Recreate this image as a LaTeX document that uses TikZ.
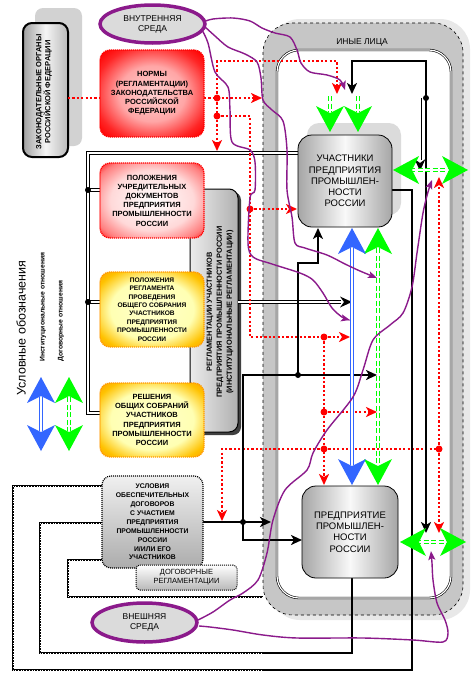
\documentclass[tikz,border=0pt]{standalone}
\usepackage{fontspec}
\setmainfont{Liberation Sans}
\usetikzlibrary{arrows.meta,calc,shapes.geometric}
\definecolor{purp}{HTML}{8B1A8B}
\definecolor{blu}{HTML}{3366FF}
\definecolor{grn}{HTML}{00FF00}
\definecolor{org}{HTML}{FF9900}
\pgfdeclareradialshading{redglow}{\pgfpointorigin}{color(0bp)=(white); color(20bp)=(white!85!red); color(30bp)=(red!50); color(37bp)=(red); color(50bp)=(red)}
\pgfdeclareradialshading{redfull}{\pgfpointorigin}{color(0bp)=(red!18); color(16bp)=(red!35); color(28bp)=(red!85); color(34bp)=(red); color(50bp)=(red)}
\pgfdeclareradialshading{orgglow}{\pgfpointorigin}{color(0bp)=(white!80!yellow); color(20bp)=(yellow!30!white); color(30bp)=(org!60!yellow); color(37bp)=(org); color(50bp)=(org)}
\begin{document}
\begin{tikzpicture}[x=1pt,y=-1pt,
 lab/.style={font={\bfseries\fontsize{7.5}{9.2}\selectfont}, align=center, inner sep=0pt},
 labs/.style={font={\bfseries\fontsize{6.6}{8.4}\selectfont}, align=center, inner sep=0pt},
 labr/.style={font={\fontsize{9.5}{11.2}\selectfont}, align=center, inner sep=0pt},
 redbox/.style={rounded corners=10pt, draw=red, line width=1.3pt, dash pattern=on 1.2pt off 0.8pt, minimum width=104pt},
 orbox/.style={rounded corners=10pt, draw=org, line width=1.3pt, dash pattern=on 1.2pt off 0.8pt, minimum width=104pt, shade, shading=orgglow},
 gbox/.style={rounded corners=9pt, draw=black, line width=0.8pt, inner sep=0pt},
 env/.style={ellipse, draw=purp, line width=3.5pt, fill=gray!28, inner sep=0pt, font={\fontsize{8.5}{10}\selectfont}, align=center},
 rdl/.style={red, line width=2.2pt, dash pattern=on 2.2pt off 2.2pt},
 rtip/.style={-{Stealth[length=11pt,width=10pt,inset=3pt]}},
 blk/.style={black, line width=2.2pt},
 btip/.style={-{Stealth[length=11pt,width=10pt,inset=3pt]}},
 instl/.style={draw=black, double=white, double distance=1.8pt, line width=1.1pt},
 ctr/.style={black, line width=2.8pt, postaction={draw, white, line width=0.7pt, dash pattern=on 0.7pt off 2pt}},
 rdot/.style={circle, fill=red, inner sep=0pt, minimum size=7pt},
 kdot/.style={circle, fill=black, inner sep=0pt, minimum size=6pt},
 purl/.style={purp, line width=1.4pt, -{Stealth[length=9pt,width=7pt,inset=2pt]}},
 grl/.style={draw=grn, double=white, double distance=1.6pt, line width=1.6pt, dash pattern=on 5pt off 2.5pt},
 bll/.style={draw=blu, double=white, double distance=1.4pt, line width=1.2pt},
 bigtip/.pic={\fill (0pt,0pt) -- (-26pt,14pt) -- (-19pt,0pt) -- (-26pt,-14pt) -- cycle;},
 smtip/.pic={\fill (0pt,0pt) -- (-12pt,5.5pt) -- (-8pt,0pt) -- (-12pt,-5.5pt) -- cycle;}
]
\fill[white] (0,0) rectangle (475,678);
\useasboundingbox (0,0) rectangle (475,678);

% ----- frame ИНЫЕ ЛИЦА
\fill[gray!18, rounded corners=30pt] (270,19) rectangle (470,620);
\node[draw, dashed, fill=gray!45, rounded corners=30pt, minimum width=200pt, minimum height=592pt, line width=0.6pt, inner sep=0pt] (iny) at (363,319) {};
\node[draw, double, double distance=1.2pt, line width=0.6pt, fill=white, rounded corners=22pt, minimum width=174pt, minimum height=548pt, inner sep=0pt] (inyin) at (364,324) {};
\node[font={\fontsize{8.5}{10}\selectfont}, inner sep=0pt] (inylab) at (362,42) {ИНЫЕ ЛИЦА};

% ----- shadows
\fill[gray!35, rounded corners=8pt] (35,8) rectangle (82,146);
\fill[black!75, rounded corners=8pt] (193,192) rectangle (241,435);
\fill[gray!28, rounded corners=12pt] (307,123) rectangle (401,215);

% ----- coordinates
\coordinate (d1) at (217,98);
\coordinate (d2) at (217,116);
\coordinate (d3) at (250,209);
\coordinate (d4) at (324,337);
\coordinate (d5) at (324,412);
\coordinate (d6) at (324,449);
\coordinate (d7) at (439,449);
\coordinate (k0) at (298,153);
\coordinate (k1) at (88,190);
\coordinate (k2) at (88,302);
\coordinate (c1) at (243,522);
\coordinate (c2) at (298,375);
\coordinate (t1) at (426,98);

% ----- boxes (left)
\node[gbox, line width=2pt, minimum width=45pt, minimum height=134pt, left color=gray!75, right color=gray!55, middle color=gray!8] (zak) at (45.5,90) {};
\node[lab, rotate=90] (zaktxt) at (44,92) {ЗАКОНОДАТЕЛЬНЫЕ ОРГАНЫ\\РОССИЙСКОЙ ФЕДЕРАЦИИ};
\node[env, minimum width=105pt, minimum height=38pt] (vnut) at (152.5,24) {ВНУТРЕННЯЯ\\СРЕДА};
\node[gbox, line width=1pt, minimum width=48pt, minimum height=243pt, left color=gray!15, right color=gray!62] (inst) at (214,310.5) {};
\node[lab, rotate=90, font={\bfseries\fontsize{7.4}{10}\selectfont}] (insttxt) at (220,312) {РЕГЛАМЕНТАЦИИ УЧАСТНИКОВ\\ПРЕДПРИЯТИЯ ПРОМЫШЛЕННОСТИ РОССИИ\\(ИНСТИТУЦИОНАЛЬНЫЕ РЕГЛАМЕНТАЦИИ)};

% ----- institutional double lines
\draw[instl] (k0) -- (88,153) -- (88,413) -- (100,413);
\draw[instl] (k1) -- (100,190);
\draw[instl] (k2) -- (100,302);
\node[kdot] at (k1) {};
\node[kdot] at (k2) {};
\draw[instl] (238,302) -- (341,302);
\pic[black] at (352,302) {smtip};

% ----- red dotted
\draw[rdl] (68,98) -- (100,98);
\draw[rdl, rtip] (204,98) -- (262,98);
\draw[rdl, rtip] (d1) -- (217,61) -- (337,61) -- (337,94);
\draw[rdl, rtip] (d1) -- (217,151);
\draw[rdl] (d2) -- (250,116) -- (250,337) -- (d4);
\draw[rdl, rtip] (d3) -- (297,209);
\draw[rdl, rtip] (d4) -- (350,337);
\draw[rdl, rtip] (d4) -- (d6) -- (324,485);
\draw[rdl, rtip] (d5) -- (377,412);
\draw[rdl, rtip] (d6) -- (222,449) -- (222,521);
\draw[rdl] (d6) -- (d7);
\draw[rdl, rtip] (d7) -- (439,177);
\draw[rdl, rtip] (d7) -- (439,533);
\foreach \p in {d1,d2,d3,d4,d5,d6,d7} \node[rdot] at (\p) {};

% ----- contract lines
\draw[ctr] (102,486) -- (13,486) -- (13,670) -- (263,670);
\draw[blk] (262,670) -- (412,670) -- (412,190) -- (392,190);
\draw[ctr] (102,523) -- (40,523) -- (40,653) -- (263,653);
\draw[blk] (262,653) -- (352,653) -- (352,578);
\draw[ctr] (102,560) -- (68,560) -- (68,597) -- (263,597);
\draw[blk, btip] (203,522) -- (c1) -- (271,522);
\draw[blk, btip] (c1) -- (243,375) -- (c2) -- (377,375);
\draw[blk, btip] (c2) -- (298,263) -- (318,263) -- (318,228);
\draw[blk, btip] (c1) -- (243,540) -- (302,540);
\node[kdot] at (c1) {};
\node[kdot] at (c2) {};
\draw[blk, {Stealth[length=11pt,width=10pt,inset=3pt]}-{Stealth[length=11pt,width=10pt,inset=3pt]}] (352,94) -- (352,61) -- (426,61) -- (426,533);
\node[kdot] at (t1) {};
\draw[black, double=white, double distance=1.2pt, line width=0.9pt] (420,98) -- (420,160);
\pic[black, rotate=-90] at (420,171) {smtip};

% ----- green / blue relations
\draw[grl] (330,96) -- (330,112);
\draw[grl] (358,96) -- (358,112);
\pic[grn, rotate=-90] at (330,132) {bigtip};
\pic[grn, rotate=-90] at (358,132) {bigtip};
\draw[grl] (410,170) -- (450,170);
\pic[grn, rotate=180] at (393,170) {bigtip};
\pic[grn] at (468,170) {bigtip};
\draw[grl] (416,542) -- (450,542);
\pic[grn, rotate=180] at (400,542) {bigtip};
\pic[grn] at (466,542) {bigtip};
\draw[grl] (378,248) -- (378,465);
\pic[grn, rotate=90] at (378,228) {bigtip};
\pic[grn, rotate=-90] at (378,485) {bigtip};
\draw[bll] (352,248) -- (352,465);
\pic[blu, rotate=90] at (352,228) {bigtip};
\pic[blu, rotate=-90] at (352,485) {bigtip};

% ----- boxes
\node[redbox, lab, minimum height=87pt, shade, shading=redfull] (norm) at (152,93.5) {НОРМЫ\\(РЕГЛАМЕНТАЦИИ)\\ЗАКОНОДАТЕЛЬСТВА\\РОССИЙСКОЙ\\ФЕДЕРАЦИИ};
\node[redbox, lab, minimum height=75pt, shade, shading=redglow] (uchr) at (152,200.5) {ПОЛОЖЕНИЯ\\УЧРЕДИТЕЛЬНЫХ\\ДОКУМЕНТОВ\\ПРЕДПРИЯТИЯ\\ПРОМЫШЛЕННОСТИ\\РОССИИ};
\node[orbox, labs, minimum height=75pt] (regl) at (152,309.5) {ПОЛОЖЕНИЯ\\РЕГЛАМЕНТА\\ПРОВЕДЕНИЯ\\ОБЩЕГО СОБРАНИЯ\\УЧАСТНИКОВ\\ПРЕДПРИЯТИЯ\\ПРОМЫШЛЕННОСТИ\\РОССИИ};
\node[orbox, lab, minimum height=74pt] (resh) at (152,420) {РЕШЕНИЯ\\ОБЩИХ СОБРАНИЙ\\УЧАСТНИКОВ\\ПРЕДПРИЯТИЯ\\ПРОМЫШЛЕННОСТИ\\РОССИИ};
\node[gbox, align=center, dash pattern=on 1pt off 1pt, line width=1.2pt, minimum width=101pt, minimum height=92pt, top color=gray!12, bottom color=gray!65, font={\bfseries\fontsize{6.8}{8.9}\selectfont}] (usl) at (152.5,522) {УСЛОВИЯ\\ОБЕСПЕЧИТЕЛЬНЫХ\\ДОГОВОРОВ\\С УЧАСТИЕМ\\ПРЕДПРИЯТИЯ\\ПРОМЫШЛЕННОСТИ\\РОССИИ\\И/ИЛИ ЕГО\\УЧАСТНИКОВ};
\node[gbox, rounded corners=4pt, dash pattern=on 1pt off 1pt, line width=1pt, minimum width=101pt, minimum height=25pt, top color=white, bottom color=gray!55, font={\fontsize{7.5}{8.8}\selectfont}, align=center] (dog) at (186.5,577.5) {ДОГОВОРНЫЕ\\РЕГЛАМЕНТАЦИИ};
\node[env, minimum width=105pt, minimum height=39pt] (vnesh) at (144.5,622.5) {ВНЕШНЯЯ\\СРЕДА};

\node[gbox, labr, minimum width=94pt, minimum height=92pt, rounded corners=14pt, left color=gray!70, right color=gray!70, middle color=gray!5] (uch) at (345,181) {УЧАСТНИКИ\\ПРЕДПРИЯТИЯ\\ПРОМЫШЛЕН-\\НОСТИ\\РОССИИ};
\node[gbox, labr, minimum width=96pt, minimum height=92pt, rounded corners=14pt, left color=gray!70, right color=gray!70, middle color=gray!5] (pred) at (350,532) {ПРЕДПРИЯТИЕ\\ПРОМЫШЛЕН-\\НОСТИ\\РОССИИ};

% ----- purple influences
\draw[purl] plot[smooth, tension=0.5] coordinates {(203,22) (213,19) (233,18) (250,21) (262,28) (275,33) (290,37) (297,50) (301,63) (310,72) (327,75) (340,80) (345,90)};
\draw[purl] plot[smooth, tension=0.5] coordinates {(204,26) (215,36) (228,47) (245,54) (257,62) (261,78) (263,100) (272,110) (283,121) (287,150) (287,190) (292,217) (295,243) (305,248) (327,255) (345,264) (360,271) (377,278)};
\draw[purl] plot[smooth, tension=0.5] coordinates {(202,30) (208,43) (215,72) (228,87) (230,110) (232,142) (250,150) (255,162) (255,190) (250,198) (248,243) (253,257) (272,264) (300,273) (313,280) (323,293) (332,308) (342,317) (350,320)};
\draw[purl] plot[smooth, tension=0.5] coordinates {(198,620) (213,612) (230,600) (243,593) (258,580) (267,553) (273,520) (285,490) (307,470) (313,453) (327,430) (353,397) (363,370) (373,340) (390,325) (403,313) (412,287) (417,253) (423,213) (428,192) (432,180)};
\draw[purl] plot[smooth, tension=0.5] coordinates {(199,626) (210,627) (233,630) (263,635) (297,638) (363,638) (413,640) (443,642) (448,633) (445,620) (437,603) (433,580) (432,563) (431,551)};

% ----- legend
\node[rotate=90, font={\fontsize{12.5}{14}\selectfont}, inner sep=0pt] (leg) at (21,328) {Условные обозначения};
\node[rotate=90, anchor=west, font={\bfseries\fontsize{6.8}{8}\selectfont}, inner sep=0pt] (leg1) at (43,362) {Институциональные отношения};
\node[rotate=90, anchor=west, font={\bfseries\fontsize{6.8}{8}\selectfont}, inner sep=0pt] (leg2) at (61,362) {Договорные отношения};
\draw[bll] (41,397) -- (41,431);
\pic[blu, rotate=90] at (41,377) {bigtip};
\pic[blu, rotate=-90] at (41,451) {bigtip};
\draw[grl] (69,397) -- (69,431);
\pic[grn, rotate=90] at (69,377) {bigtip};
\pic[grn, rotate=-90] at (69,451) {bigtip};
\end{tikzpicture}
\end{document}
